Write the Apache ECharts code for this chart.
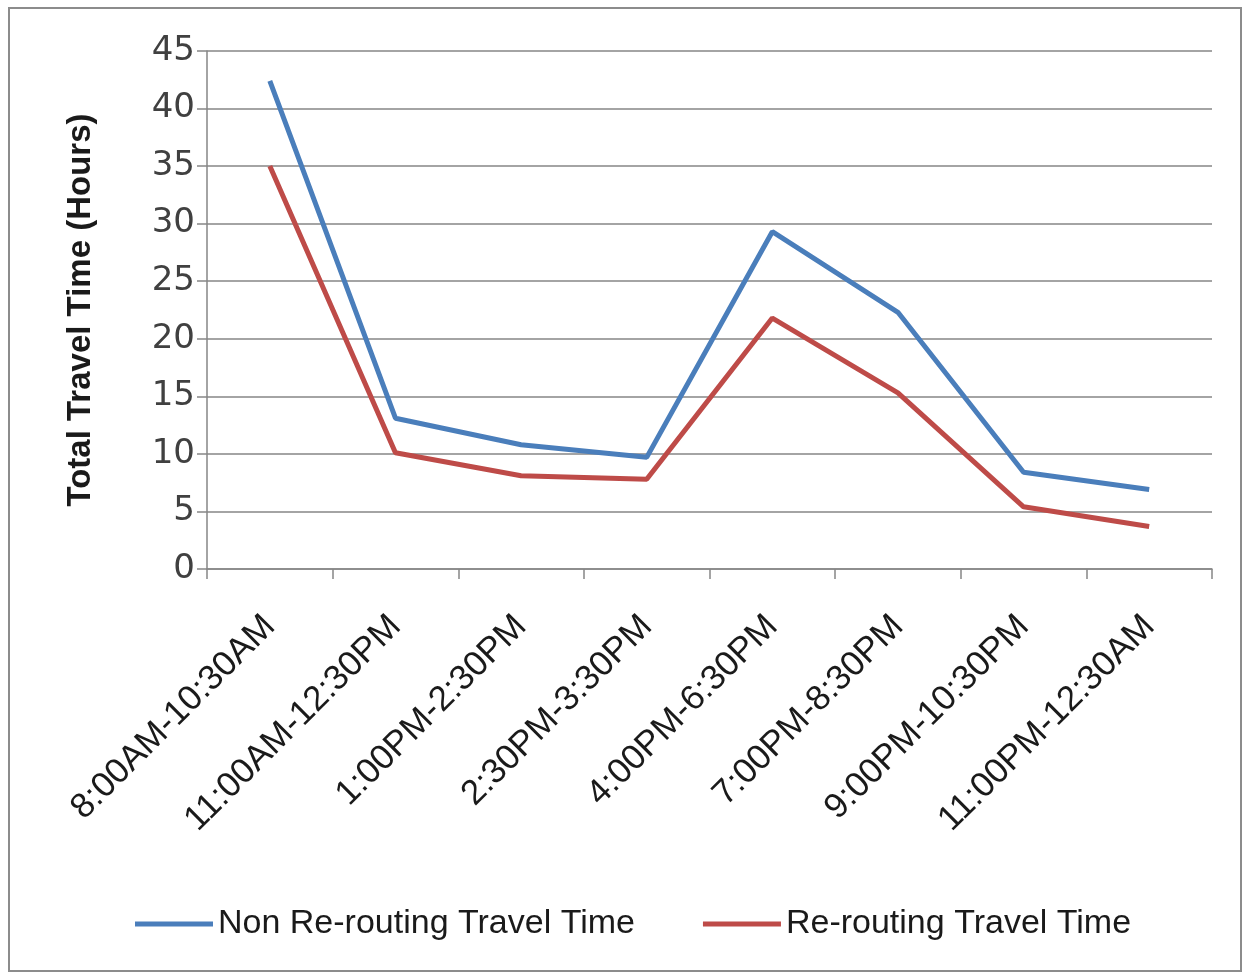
<!DOCTYPE html>
<html>
<head>
<meta charset="utf-8">
<script src="https://cdn.jsdelivr.net/npm/echarts@6/dist/echarts.min.js"></script>
<style>
  html, body { margin: 0; padding: 0; background: #fff; }
  #chart { width: 1249px; height: 977px; }
</style>
</head>
<body>
<div id="chart"></div>
<script>
const periods = [
  "8:00AM-10:30AM", "11:00AM-12:30PM", "1:00PM-2:30PM", "2:30PM-3:30PM",
  "4:00PM-6:30PM", "7:00PM-8:30PM", "9:00PM-10:30PM", "11:00PM-12:30AM"
];
const nonRerouting = [42.4, 13.1, 10.8, 9.7, 29.3, 22.3, 8.4, 6.9];
const rerouting = [35.0, 10.1, 8.1, 7.8, 21.8, 15.3, 5.4, 3.7];

const chart = echarts.init(document.getElementById("chart"));
const gray = "#868686";

const options = {
  animation: false,
  textStyle: { fontFamily: "Liberation Sans" },
  graphic: [
    {
      type: "rect",
      shape: { x: 9, y: 8, width: 1232, height: 963 },
      style: { fill: null, stroke: "#8c8c8c", lineWidth: 2 }
    }
  ],
  grid: { left: 207, right: 37, top: 51, bottom: 408 },
  legend: {
    left: 130,
    top: 902,
    icon: "rect",
    itemWidth: 78,
    itemHeight: 5,
    itemGap: 68,
    textStyle: { fontSize: 34, color: "#1a1a1a", fontFamily: "Liberation Sans" },
    data: ["Non Re-routing Travel Time", "Re-routing Travel Time"]
  },
  xAxis: {
    type: "category",
    data: periods,
    boundaryGap: true,
    axisLine: { lineStyle: { color: gray, width: 1.5 } },
    axisTick: { show: true, length: 10, lineStyle: { color: gray, width: 1.5 } },
    axisLabel: {
      rotate: 45,
      margin: 52,
      fontSize: 35,
      color: "#1a1a1a",
      fontFamily: "Liberation Sans",
      interval: 0
    }
  },
  yAxis: {
    type: "value",
    min: 0,
    max: 45,
    interval: 5,
    name: "Total Travel Time (Hours)",
    nameLocation: "middle",
    nameGap: 110,
    nameTextStyle: { fontSize: 33, fontWeight: "bold", color: "#1a1a1a", fontFamily: "Liberation Sans" },
    axisLine: { show: true, lineStyle: { color: gray, width: 1.5 } },
    axisTick: { show: true, length: 10, lineStyle: { color: gray, width: 1.5 } },
    axisLabel: { fontSize: 34, color: "#404040", margin: 12, fontFamily: "DejaVu Sans" },
    splitLine: { lineStyle: { color: gray, width: 1.5 } }
  },
  series: [
    {
      name: "Non Re-routing Travel Time",
      type: "line",
      data: nonRerouting,
      symbol: "none",
      lineStyle: { width: 5, color: "#4a7ebb" },
      itemStyle: { color: "#4a7ebb" },
      z: 3
    },
    {
      name: "Re-routing Travel Time",
      type: "line",
      data: rerouting,
      symbol: "none",
      lineStyle: { width: 5, color: "#be4b48" },
      itemStyle: { color: "#be4b48" },
      z: 2
    }
  ]
};
chart.setOption(options);
</script>
</body>
</html>
